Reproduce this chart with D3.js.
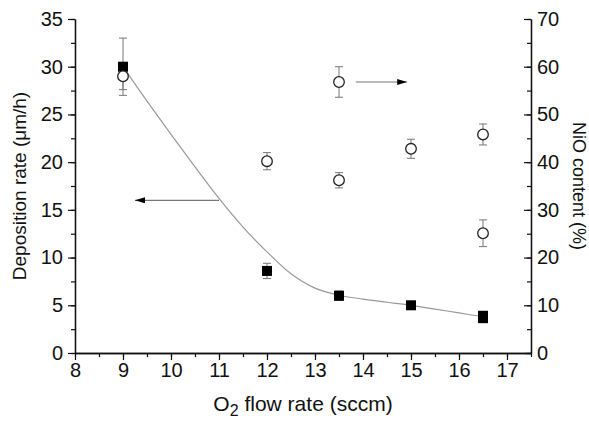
<!DOCTYPE html>
<html>
<head>
<meta charset="utf-8">
<script src="https://cdn.jsdelivr.net/npm/d3@7"></script>
<style>
body{margin:0;background:#fff;}
svg text{font-family:"Liberation Sans",Arial,sans-serif;fill:#111;}
</style>
</head>
<body>
<svg id="chart" width="589" height="421"></svg>
<script>
// deposition rate (left axis), um/h
var rateX=[9,12,13.5,15,16.5,16.5];
var rateY=[30,8.6,6.0,5.0,3.9,3.65];
var rateErr=[3,0.8,0.5,0.3,0.3,0.3];
// NiO content (right axis), %
var nioX=[9,12,13.5,13.5,15,16.5,16.5];
var nioY=[58,40.2,56.8,36.2,42.8,45.8,25.1];
var nioErr=[2.8,1.8,3.2,1.6,2.0,2.2,2.8];
// fitted curve through deposition rate
var fitX=[9,9.5,10,10.5,11,11.5,12,12.5,13,13.5,14,14.5,15,15.5,16,16.5];
var fitY=[30,26.4,22.9,19.5,16.2,13.2,10.6,8.3,6.8,6.05,5.65,5.32,5.0,4.6,4.2,3.8];
var xTicks=[8,9,10,11,12,13,14,15,16,17];
var yTicks=[0,5,10,15,20,25,30,35];
var y2Ticks=[0,10,20,30,40,50,60,70];

var svg=d3.select('#chart');
var pLeft=75,pRight=531,pTop=19,pBottom=353;

var x=d3.scaleLinear().domain([8,17.5]).range([pLeft,pRight]);
var y=d3.scaleLinear().domain([0,35]).range([pBottom,pTop]);
var y2=d3.scaleLinear().domain([0,70]).range([pBottom,pTop]);

function minor(step,lo,hi){
  var a=[];
  for(var v=lo;v<=hi+1e-9;v+=step)a.push(v);
  return a;
}

// x axis
var gx=svg.append('g').attr('transform','translate(0,'+pBottom+')');
gx.call(d3.axisBottom(x).tickValues(minor(0.5,8,17.5)).tickSize(4).tickFormat('').tickSizeOuter(0));
gx.append('g').call(d3.axisBottom(x).tickValues(xTicks).tickSize(7).tickSizeOuter(0).tickPadding(3));
gx.selectAll('text').style('font-size','20px');

var gy=svg.append('g').attr('transform','translate('+pLeft+',0)');
gy.call(d3.axisLeft(y).tickValues(minor(2.5,0,35)).tickSize(4).tickFormat('').tickSizeOuter(0));
gy.append('g').call(d3.axisLeft(y).tickValues(yTicks).tickSize(7).tickSizeOuter(0).tickPadding(5));
gy.selectAll('text').style('font-size','20px');

var gy2=svg.append('g').attr('transform','translate('+pRight+',0)');
gy2.call(d3.axisLeft(y2).tickValues(minor(5,0,70)).tickSize(4).tickFormat('').tickSizeOuter(0));
gy2.append('g').call(d3.axisLeft(y2).tickValues(y2Ticks).tickSize(7).tickSizeOuter(0).tickFormat(d3.format('d')));
gy2.selectAll('g g .tick text').attr('x',6).attr('text-anchor','start');
gy2.selectAll('text').style('font-size','20px');

svg.selectAll('.domain').attr('stroke','#111').attr('stroke-width',1.3);
svg.selectAll('.tick line').attr('stroke','#111').attr('stroke-width',1.2);

// fit curve
var line=d3.line().x(d=>x(d[0])).y(d=>y(d[1])).curve(d3.curveCatmullRom);
svg.append('path')
.datum(d3.zip(fitX,fitY))
.attr('d',line)
.attr('fill','none')
.attr('stroke','#999')
.attr('stroke-width',1.2);

// error bars
function errBars(xs,ys,es,sc){
  var g=svg.append('g').attr('stroke','#777').attr('stroke-width',1);
  xs.forEach(function(xv,i){
    var cx=x(xv),t=sc(ys[i]+es[i]),b=sc(ys[i]-es[i]);
    g.append('line').attr('x1',cx).attr('x2',cx).attr('y1',t).attr('y2',b);
    g.append('line').attr('x1',cx-4).attr('x2',cx+4).attr('y1',t).attr('y2',t);
    g.append('line').attr('x1',cx-4).attr('x2',cx+4).attr('y1',b).attr('y2',b);
  });
}
errBars(rateX,rateY,rateErr,y);
errBars(nioX,nioY,nioErr,y2);

svg.selectAll('.sq')
.data(d3.zip(rateX,rateY))
.enter()
.append('rect')
.attr('x',d=>x(d[0])-5)
.attr('y',d=>y(d[1])-5)
.attr('width',10)
.attr('height',10)
.attr('fill','#000');

svg.selectAll('.ci')
.data(d3.zip(nioX,nioY))
.enter()
.append('circle')
.attr('cx',d=>x(d[0]))
.attr('cy',d=>y2(d[1]))
.attr('r',5.3)
.attr('fill','#fff')
.attr('stroke','#222')
.attr('stroke-width',1.3);

// arrows
var defs=svg.append('defs');
defs.append('marker').attr('id','ah').attr('viewBox','0 0 10 6')
.attr('refX',10).attr('refY',3).attr('markerWidth',10).attr('markerHeight',6)
.attr('markerUnits','userSpaceOnUse').attr('orient','auto')
.append('path').attr('d','M0,0L10,3L0,6Z').attr('fill','#000');

svg.append('line').attr('x1',x(11)).attr('y1',y(16)).attr('x2',x(9.25)).attr('y2',y(16))
.attr('stroke','#777').attr('stroke-width',1.2).attr('marker-end','url(#ah)');
svg.append('line').attr('x1',x(13.85)).attr('y1',y2(56.8)).attr('x2',x(14.92)).attr('y2',y2(56.8))
.attr('stroke','#777').attr('stroke-width',1.2).attr('marker-end','url(#ah)');

// titles
svg.append('text')
.attr('transform','translate(26,'+((pTop+pBottom)/2)+') rotate(-90)')
.attr('text-anchor','middle')
.style('font-size','19px')
.text('Deposition rate (μm/h)');

svg.append('text')
.attr('transform','translate(573,'+((pTop+pBottom)/2)+') rotate(90)')
.attr('text-anchor','middle')
.style('font-size','18px')
.text('NiO content (%)');

var xt=svg.append('text')
.attr('x',(pLeft+pRight)/2)
.attr('y',411)
.attr('text-anchor','middle')
.style('font-size','21px');
xt.append('tspan').text('O');
xt.append('tspan').attr('dy',5).style('font-size','16px').text('2');
xt.append('tspan').attr('dy',-5).text(' flow rate (sccm)');
</script>
</body>
</html>
